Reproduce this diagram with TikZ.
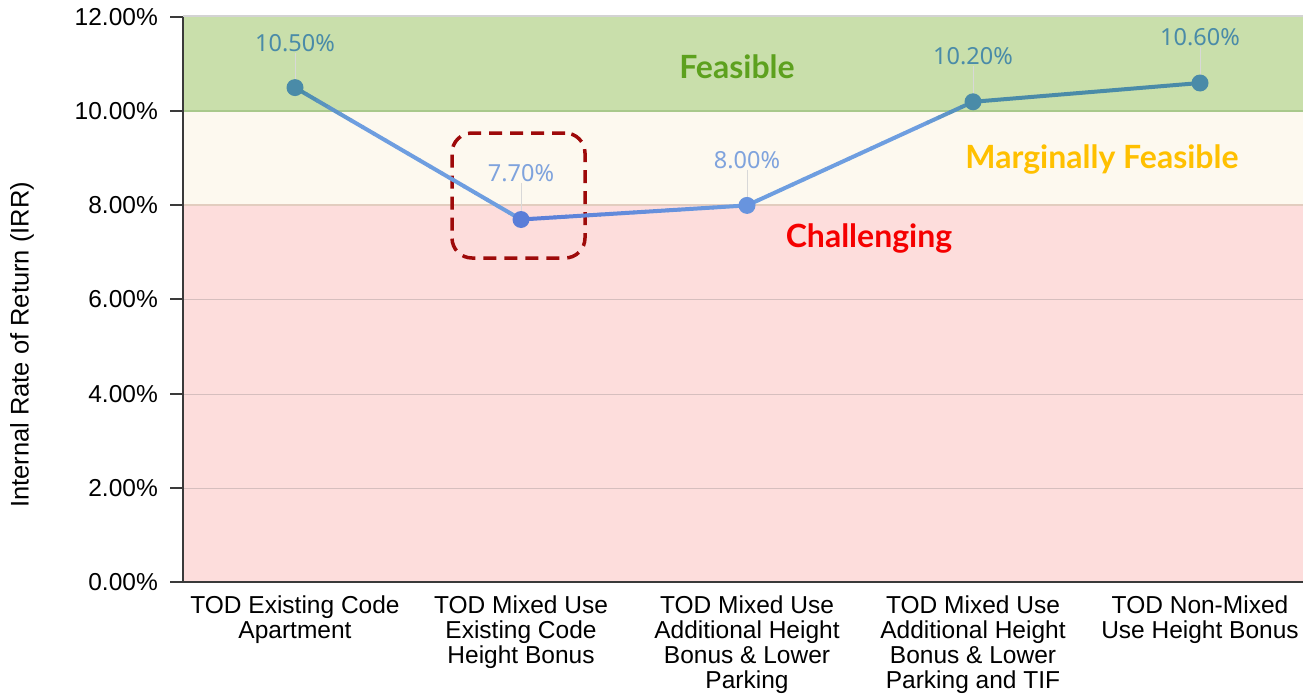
\documentclass[tikz,border=0pt]{standalone}
\usepackage{fontspec}
\setmainfont{Liberation Sans}
\newfontfamily\valfont{Noto Sans}
\newfontfamily\bandfont{Lato}
\usetikzlibrary{calc}
\definecolor{greenband}{HTML}{C9DFAB}
\definecolor{creamband}{HTML}{FDF9EF}
\definecolor{pinkband}{HTML}{FDDDDC}
\definecolor{myteal}{HTML}{4A8BA8}
\definecolor{lblue}{HTML}{6E9EE0}
\definecolor{dblue}{HTML}{5A7DD8}
\definecolor{labblue}{HTML}{7FA3DD}
\definecolor{gridc}{HTML}{D6BEBE}
\definecolor{line8}{HTML}{E2CDBF}
\definecolor{line10}{HTML}{A9C98C}
\definecolor{topline}{HTML}{D3D3D3}
\definecolor{axisc}{HTML}{3A3A3A}
\definecolor{feasgreen}{HTML}{5DA11E}
\definecolor{margold}{HTML}{FFC000}
\definecolor{chalred}{HTML}{F50000}
\definecolor{boxred}{HTML}{9E0A0A}
\definecolor{leaderc}{HTML}{D8D8D8}
\tikzset{
  ticklab/.style={anchor=east, inner sep=0pt, font=\fontsize{24.5}{25}\selectfont},
  catlab/.style={anchor=north, align=center, inner sep=0pt, font=\fontsize{24.5}{25}\selectfont},
  vallab/.style={inner sep=1pt, font=\valfont\fontsize{23.5}{24}\selectfont},
  bandlab/.style={inner sep=0pt, font=\bandfont\bfseries\fontsize{32}{34}\selectfont},
  dot/.style={circle, inner sep=0pt, minimum size=17pt},
  leader/.style={draw=leaderc, line width=0.8pt},
  dashbox/.style={draw=boxred, line width=3.5pt, rounded corners=20pt, dash pattern=on 13pt off 8pt, minimum width=133pt, minimum height=125pt, inner sep=0pt},
  grid/.style={line width=1pt, draw=gridc},
  seg/.style={line width=4pt, line cap=round}
}
\begin{document}
\begin{tikzpicture}[x=1pt,y=-1pt]
\useasboundingbox (0,0) rectangle (1303,693);
% bands
\fill[pinkband] (183,205) rectangle (1303,582);
\fill[creamband] (183,111) rectangle (1303,205);
\fill[greenband] (183,17) rectangle (1303,111);
% grid
\draw[grid] (183,488) -- (1303,488);
\draw[grid] (183,394) -- (1303,394);
\draw[grid] (183,299) -- (1303,299);
\draw[line width=1.2pt, line8] (183,205) -- (1303,205);
\draw[line width=1.5pt, line10] (183,111) -- (1303,111);
\draw[line width=1.5pt, topline] (183,16) -- (1303,16);
% axes
\draw[line width=1.6pt, axisc] (183,17) -- (183,582);
\draw[line width=2pt, axisc] (170,582) -- (1303,582);
\foreach \yy in {17,111,205,299,394,488}
  \draw[line width=1.6pt, axisc] (170,\yy) -- (183,\yy);
% tick labels
\node[ticklab] at (158,17) {12.00\%};
\node[ticklab] at (158,111) {10.00\%};
\node[ticklab] at (158,205) {8.00\%};
\node[ticklab] at (158,299) {6.00\%};
\node[ticklab] at (158,394) {4.00\%};
\node[ticklab] at (158,488) {2.00\%};
\node[ticklab] at (158,582) {0.00\%};
\node[rotate=90, inner sep=0pt, font=\fontsize{25.5}{26}\selectfont] (ytitle) at (22,345) {Internal Rate of Return (IRR)};
% category labels
\node[catlab] (c1) at (295,596) {TOD Existing Code\\Apartment};
\node[catlab] (c2) at (521,596) {TOD Mixed Use\\Existing Code\\Height Bonus};
\node[catlab] (c3) at (747,596) {TOD Mixed Use\\Additional Height\\Bonus \& Lower\\Parking};
\node[catlab] (c4) at (973,596) {TOD Mixed Use\\Additional Height\\Bonus \& Lower\\Parking and TIF};
\node[catlab] (c5) at (1200,596) {TOD Non-Mixed\\Use Height Bonus};
% band labels
\node[bandlab, text=feasgreen] (bf) at (737,67) {Feasible};
\node[bandlab, text=margold] (bm) at (1102,159) {Marginally Feasible};
\node[bandlab, text=chalred] (bc) at (869,238) {Challenging};
% highlight box
\node[dashbox] (hl) at (518.5,195.5) {};
% points
\coordinate (p1) at (295,87.6);
\coordinate (p2) at (521,219.5);
\coordinate (p3) at (747,205.4);
\coordinate (p4) at (973,101.8);
\coordinate (p5) at (1200,83);
% value labels
\node[vallab, text=myteal] (v1) at (295,43) {10.50\%};
\node[vallab, text=labblue] (v2) at (521,173) {7.70\%};
\node[vallab, text=labblue] (v3) at (747,160) {8.00\%};
\node[vallab, text=myteal] (v4) at (973,56) {10.20\%};
\node[vallab, text=myteal] (v5) at (1200,37) {10.60\%};
\draw[leader] (v1.south) -- (p1);
\draw[leader] (v2.south) -- (p2);
\draw[leader] (v3.south) -- (p3);
\draw[leader] (v4.south) -- (p4);
\draw[leader] (v5.south) -- (p5);
% line segments with gradients
\foreach \i in {0,...,19}{
  \pgfmathsetmacro\ta{min(100,\i*20)}
  \pgfmathsetmacro\sa{\i/20}\pgfmathsetmacro\sb{(\i+1)/20}
  \draw[seg, color=lblue!\ta!myteal] ($(p1)!\sa!(p2)$) -- ($(p1)!\sb!(p2)$);
}
\foreach \i in {0,...,19}{
  \pgfmathsetmacro\ta{\i*5}
  \pgfmathsetmacro\sa{\i/20}\pgfmathsetmacro\sb{(\i+1)/20}
  \draw[seg, color=lblue!\ta!dblue] ($(p2)!\sa!(p3)$) -- ($(p2)!\sb!(p3)$);
}
\foreach \i in {0,...,19}{
  \pgfmathsetmacro\ta{min(100,max(0,100-(\i-15)*20))}
  \pgfmathsetmacro\sa{\i/20}\pgfmathsetmacro\sb{(\i+1)/20}
  \draw[seg, color=lblue!\ta!myteal] ($(p3)!\sa!(p4)$) -- ($(p3)!\sb!(p4)$);
}
\draw[seg, myteal] (p4) -- (p5);
% dots
\node[dot, fill=myteal] (d1) at (p1) {};
\node[dot, fill=dblue] (d2) at (p2) {};
\node[dot, fill=lblue!70!dblue] (d3) at (p3) {};
\node[dot, fill=myteal] (d4) at (p4) {};
\node[dot, fill=myteal] (d5) at (p5) {};
\end{tikzpicture}
\end{document}
